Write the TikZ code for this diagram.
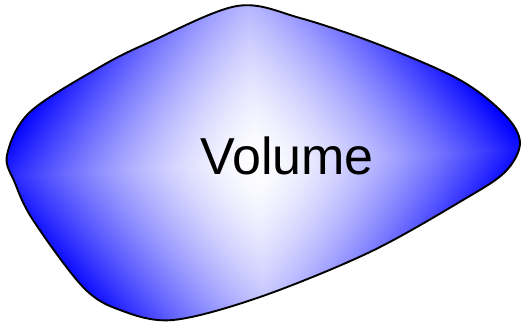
\documentclass[tikz,border=0pt]{standalone}
\usepackage{fontspec}
\newfontfamily\arialfont{Liberation Sans}
\pgfdeclarefunctionalshading{crossglow}{\pgfpoint{0bp}{0bp}}{\pgfpoint{100bp}{100bp}}{}{
  50 sub abs 25 div dup 1 gt {pop 1} if
  exch 50 sub abs 25 div dup 1 gt {pop 1} if
  2 copy mul 0.5 mul
  3 1 roll
  dup sqrt mul 0.92 mul
  exch dup sqrt mul 0.3 mul
  add add
  dup 1 gt {pop 1} if
  1 exch sub
  dup 1
}
\tikzset{
  blobline/.style={line width=1.9pt, line join=round},
  blobpath/.style={smooth cycle, tension=0.55},
  labeltext/.style={font=\arialfont\fontsize{52}{60}\selectfont, anchor=base, inner sep=0pt}
}
\begin{document}
\begin{tikzpicture}[x=1pt,y=-1pt]
\useasboundingbox (0,0) rectangle (521,324);
\def\blob{plot[blobpath] coordinates {(7,155) (30,112) (100,67) (150,42) (237,6) (300,18) (380,45) (460,80) (505,115) (520,143) (505,172) (463,200) (370,252) (260,297) (173,320) (120,310) (83,287) (33,220) (15,183)}}
\begin{scope}
  \clip \blob;
  \shade[shading=crossglow, shading angle=3] (-9,5) rectangle (521,321);
\end{scope}
\draw[blobline] \blob;
\node[labeltext] (label) at (287,174) {Volume};
\end{tikzpicture}
\end{document}
